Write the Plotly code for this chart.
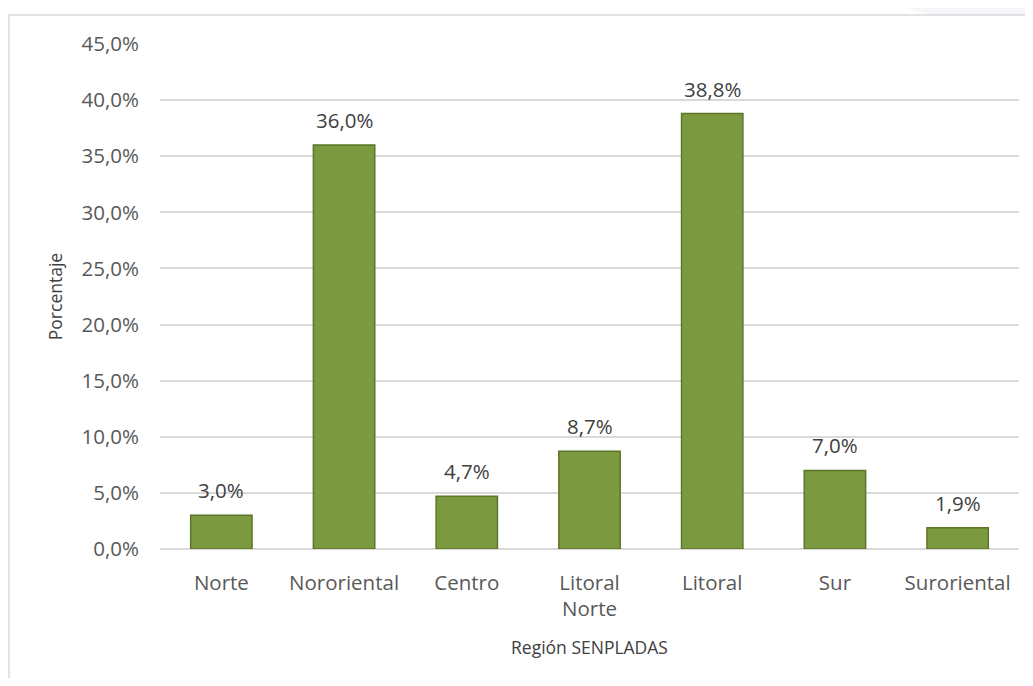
import plotly.graph_objects as go

categories = ["Norte", "Nororiental", "Centro", "Litoral<br>Norte", "Litoral", "Sur", "Suroriental"]
values = [3.0, 36.0, 4.7, 8.7, 38.8, 7.0, 1.9]
y_ticks = [0, 5, 10, 15, 20, 25, 30, 35, 40, 45]
y_tick_text = ["0,0%", "5,0%", "10,0%", "15,0%", "20,0%", "25,0%", "30,0%", "35,0%", "40,0%", "45,0%"]

# page is offset by the default 8px body margin
W, H = 1017, 670
L, R, T, B = 152, 6, 36, 129
PL, PR, PT, PB = 160, 1019, 44, 549  # plot area in page pixels

def px(x):
    return (x - PL) / (PR - PL)

def py(y):
    return (PB - y) / (PB - PT)

fig = go.Figure()
fig.add_trace(go.Bar(
    x=categories, y=values,
    marker=dict(color="#7B9A3F", line=dict(color="#5B7529", width=1.5)),
    cliponaxis=False, width=0.5,
))

for c, v in zip(categories, values):
    fig.add_annotation(
        x=c, y=v, text=f"{v:.1f}%".replace(".", ","),
        showarrow=False, yanchor="middle", yshift=25,
        font=dict(family="Open Sans", size=20.5, color="#404040"),
    )

font = "Open Sans"
fig.update_layout(
    width=W, height=H,
    margin=dict(l=L, r=R, t=T, b=B, autoexpand=False),
    paper_bgcolor="white", plot_bgcolor="white",
    separators=",.",
    showlegend=False,
    font=dict(family=font, size=16, color="#595959"),
    xaxis=dict(
        title=dict(text="Región SENPLADAS", font=dict(size=17.5, color="#404040"), standoff=20),
        tickfont=dict(size=20.5, color="#595959"),
        showgrid=False, showline=False, ticks="", ticklabelstandoff=19,
    ),
    yaxis=dict(
        title=dict(text="Porcentaje", font=dict(size=17.5, color="#404040"), standoff=14),
        range=[0, 45], tickvals=y_ticks, ticktext=y_tick_text,
        tickfont=dict(size=20.5, color="#595959"),
        showgrid=True, gridcolor="#D9D9D9", gridwidth=1.5,
        zeroline=True, zerolinecolor="#D9D9D9", zerolinewidth=1.5,
        showline=False, ticks="", ticklabelstandoff=20,
    ),
    bargap=0.5,
    shapes=[
        dict(type="path", xref="paper", yref="paper",
             path=f"M {px(880)} {py(0)} L {px(1040)} {py(0)} L {px(1040)} {py(15)} L {px(930)} {py(15)} Z",
             fillcolor="#F5F6F9", line=dict(width=0), layer="below"),
        dict(type="rect", xref="paper", yref="paper",
             x0=px(9), x1=px(1060), y0=py(720), y1=py(15),
             line=dict(color="#D9D9D9", width=1.5), fillcolor="rgba(0,0,0,0)", layer="below"),
    ],
)

fig.write_html("out.html")
